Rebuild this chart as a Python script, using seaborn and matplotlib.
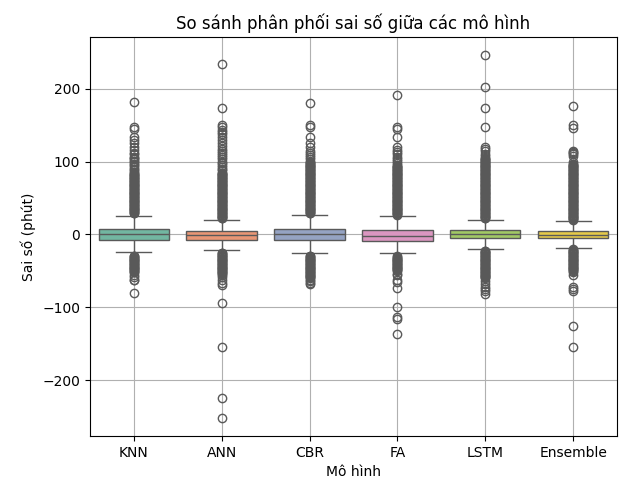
import numpy as np
import pandas as pd
import matplotlib
matplotlib.use("Agg")
import matplotlib.pyplot as plt
import seaborn as sns

models = ["KNN", "ANN", "CBR", "FA", "LSTM", "Ensemble"]

# box statistics (minutes)
q1 = [-7, -7, -7, -8.5, -5, -5]
median = [0, -1, 0, -1.5, 0.5, -0.5]
q3 = [7, 4.5, 7, 5.5, 5.5, 4.5]
whisker_low = [-24, -21.5, -26, -26, -20, -19]
whisker_high = [25, 20, 27, 25, 20, 18.5]

# outliers (upper and lower)
out_knn = [29, 30, 31, 32, 33, 34, 35, 36, 37, 38, 39, 40, 41, 42, 43, 44, 45, 46, 47, 48,
           49, 50, 51, 52, 53, 54, 55, 56, 57, 58, 59, 60, 61, 62, 63, 64, 65, 66, 67, 68,
           69, 70, 71, 72, 73, 74, 75, 76, 77, 78, 79, 80, 81, 82, 83, 84,
           86, 88, 90, 92, 95, 97, 99, 101, 103, 105, 107, 110, 112, 116, 120, 126, 130,
           134, 145, 148, 182,
           -29, -30, -31, -32, -33, -34, -35, -36, -37, -38, -39, -40, -41, -42, -43, -44,
           -45, -46, -47, -48, -49, -50, -51, -52, -55, -58, -62, -63, -81]
out_ann = [22, 23, 24, 25, 26, 27, 28, 29, 30, 31, 32, 33, 34, 35, 36, 37, 38, 39, 40, 41,
           42, 43, 44, 45, 46, 47, 48, 49, 50, 51, 52, 53, 54, 55, 56, 57, 58, 59, 60, 61,
           62, 63, 64, 65, 66, 67, 68, 69, 70, 71, 72, 73, 74, 75, 76, 77, 78, 79, 80, 81,
           82, 83, 84, 85, 88, 90, 93, 95, 98, 100, 103, 106, 109, 112, 115, 118, 122, 126,
           130, 134, 138, 141, 144, 147, 150, 173, 234,
           -25, -26, -27, -28, -29, -30, -31, -32, -33, -34, -35, -36, -37, -38, -39, -40,
           -41, -42, -43, -44, -45, -46, -47, -48, -49, -50, -51, -52, -53, -54, -55,
           -58, -62, -66, -69, -94, -154, -224, -252]
out_cbr = [29, 30, 31, 32, 33, 34, 35, 36, 37, 38, 39, 40, 41, 42, 43, 44, 45, 46, 47, 48,
           49, 50, 51, 52, 53, 54, 55, 56, 57, 58, 59, 60, 61, 62, 63, 64, 65, 66, 67, 68,
           69, 70, 71, 72, 73, 74, 75, 76, 77, 78, 79, 80, 81, 82, 83, 84, 85, 86, 87, 88,
           89, 90, 91, 92, 93, 94, 95, 96, 97, 98, 99, 100,
           103, 106, 109, 112, 115, 120, 125, 134, 148, 150, 181,
           -29, -30, -31, -32, -33, -34, -35, -36, -37, -38, -39, -40, -41, -42, -43, -44,
           -45, -46, -47, -48, -49, -50, -51, -52, -53, -54, -55, -56, -57, -58, -59, -60,
           -62, -64, -66, -68]
out_fa = [27, 28, 29, 30, 31, 32, 33, 34, 35, 36, 37, 38, 39, 40, 41, 42, 43, 44, 45, 46,
          47, 48, 49, 50, 51, 52, 53, 54, 55, 56, 57, 58, 59, 60, 61, 62, 63, 64, 65, 66,
          67, 68, 69, 70, 71, 72, 73, 74, 75, 76, 77, 78, 79, 80, 81, 82, 83, 84, 85, 86,
          87, 88, 89, 90, 91, 92, 93, 94, 95,
          98, 101, 104, 107, 110, 113, 116, 120, 134, 145, 148, 192,
          -30, -31, -32, -33, -34, -35, -36, -37, -38, -39, -40, -41, -42, -43, -44, -45,
          -46, -47, -48, -49, -50, -54, -56, -63, -65, -74, -100, -113, -116, -136]
out_lstm = [22, 23, 24, 25, 26, 27, 28, 29, 30, 31, 32, 33, 34, 35, 36, 37, 38, 39, 40, 41,
            42, 43, 44, 45, 46, 47, 48, 49, 50, 51, 52, 53, 54, 55, 56, 57, 58, 59, 60, 61,
            62, 63, 64, 65, 66, 67, 68, 69, 70, 71, 72, 73, 74, 75, 76, 77, 78, 79, 80, 81,
            82, 83, 84, 85, 86, 87, 88, 89, 90, 91, 92, 93, 94, 95, 96, 97, 98, 99, 100, 101,
            102, 103, 104, 105, 108, 111, 114, 117, 120, 148, 173, 203, 246,
            -22, -23, -24, -25, -26, -27, -28, -29, -30, -31, -32, -33, -34, -35, -36, -37,
            -38, -39, -40, -41, -42, -43, -44, -45, -46, -47, -48, -49, -50, -51, -52, -53,
            -54, -55, -56, -57, -58, -59, -60, -64, -68, -72, -75, -78, -82]
out_ens = [20, 21, 22, 23, 24, 25, 26, 27, 28, 29, 30, 31, 32, 33, 34, 35, 36, 37, 38, 39,
           40, 41, 42, 43, 44, 45, 46, 47, 48, 49, 50, 51, 52, 53, 54, 55, 56, 57, 58, 59,
           60, 61, 62, 63, 64, 65, 66, 67, 68, 69, 70, 71, 72, 73, 74, 75, 76, 77, 78, 79,
           80, 81, 82, 83, 84, 85, 86, 87, 88, 89, 90, 91, 92, 93, 94, 95, 96, 97,
           100, 108, 110, 112, 113, 115, 146, 150, 176,
           -20, -21, -22, -23, -24, -25, -26, -27, -28, -29, -30, -31, -32, -33, -34, -35,
           -36, -37, -38, -39, -40, -41, -42, -43, -44, -45, -46, -47, -48, -49, -50,
           -52, -55, -72, -75, -78, -125, -154]
outliers = [out_knn, out_ann, out_cbr, out_fa, out_lstm, out_ens]


def sample_from_stats(i, n=1000):
    # repeat the quartile values so the boxplot lands on them
    vals = ([whisker_low[i]] + [q1[i]] * n + [median[i]] * n + [q3[i]] * n
            + [whisker_high[i]] + list(outliers[i]))
    return vals


rows = []
for i, m in enumerate(models):
    for v in sample_from_stats(i):
        rows.append((m, v))
df = pd.DataFrame(rows, columns=["model", "error"])

fig = plt.figure(figsize=(6.19, 4.83), dpi=100)
ax = sns.boxplot(x="model", y="error", data=df, hue="model", palette="Set2", legend=False)
plt.title("So sánh phân phối sai số giữa các mô hình")
plt.xlabel("Mô hình")
plt.ylabel("Sai số (phút)")
plt.grid(True)
plt.subplots_adjust(left=0.145, right=0.997, top=0.923, bottom=0.097)
plt.savefig("out.png", dpi=100)
